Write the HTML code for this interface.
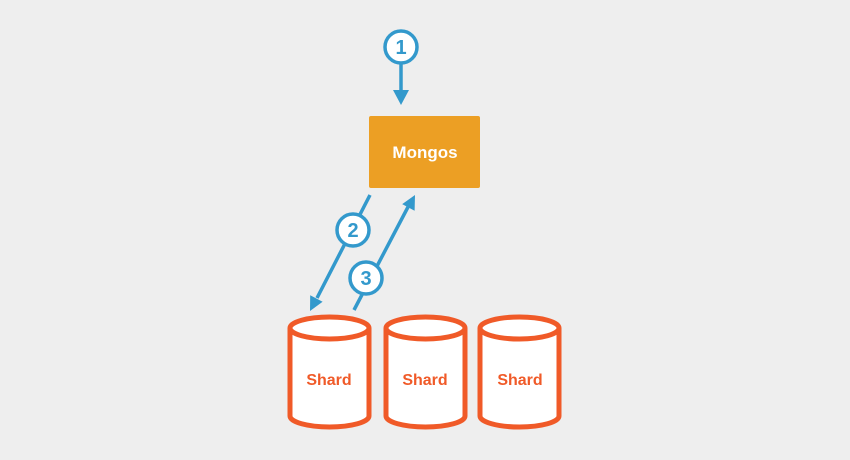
<!DOCTYPE html>
<html><head><meta charset="utf-8"><style>
html,body{margin:0;padding:0;background:#eeeeee;}
svg{display:block;}
text{font-family:"Liberation Sans",sans-serif;font-weight:bold;}
</style></head><body>
<svg width="850" height="460" viewBox="0 0 850 460">
<rect width="850" height="460" fill="#eeeeee"/>
<g stroke="#3399cc" stroke-width="3.5" fill="none">
<line x1="401" y1="63" x2="401" y2="92"/>
<line x1="370" y1="195" x2="317" y2="298"/>
<line x1="354" y1="310" x2="408" y2="207"/>
</g>
<g fill="#3399cc">
<polygon points="393,90 409,90 401,105"/>
<polygon points="322.6,301.7 310.2,295.3 310,311"/>
<polygon points="414.6,210.7 402.2,204.1 415,195"/>
</g>
<g stroke="#3399cc" stroke-width="3.5" fill="#fff">
<circle cx="401" cy="47" r="16"/>
<circle cx="353" cy="230" r="16"/>
<circle cx="366" cy="278" r="16"/>
</g>
<g fill="#3399cc" font-size="20" text-anchor="middle">
<text x="401" y="54">1</text>
<text x="353" y="237">2</text>
<text x="366" y="285">3</text>
</g>
<rect x="369" y="116" width="111" height="72" rx="2" fill="#ec9f24"/>
<text x="425" y="158" fill="#fff" font-size="17" text-anchor="middle">Mongos</text>
<g stroke="#f05a28" stroke-width="5" fill="#fff">
<path d="M290,328 V416 A39.5,11 0 0 0 369,416 V328"/>
<ellipse cx="329.5" cy="328" rx="39.5" ry="11"/>
<path d="M386,328 V416 A39.5,11 0 0 0 465,416 V328"/>
<ellipse cx="425.5" cy="328" rx="39.5" ry="11"/>
<path d="M480,328 V416 A39.5,11 0 0 0 559,416 V328"/>
<ellipse cx="519.5" cy="328" rx="39.5" ry="11"/>
</g>
<g fill="#f05a28" font-size="16" text-anchor="middle">
<text x="329" y="385">Shard</text>
<text x="425" y="385">Shard</text>
<text x="520" y="385">Shard</text>
</g>
</svg>
</body></html>
